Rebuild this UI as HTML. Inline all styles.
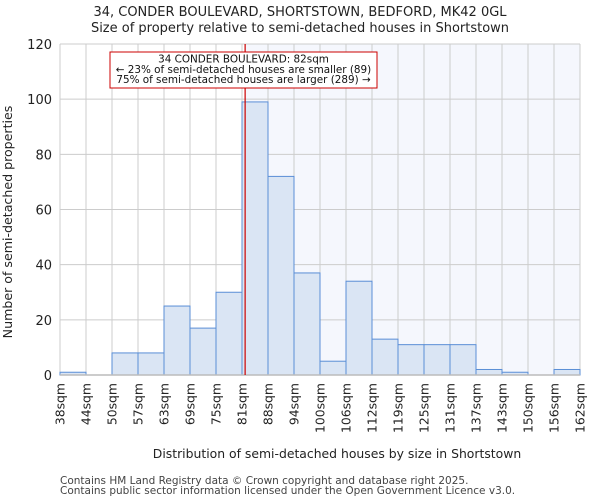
<!DOCTYPE html>
<html><head><meta charset="utf-8"><style>
body{margin:0;background:#fff;font-family:"DejaVu Sans","Liberation Sans",sans-serif}
</style></head><body>
<svg width="600" height="500" xmlns="http://www.w3.org/2000/svg" font-family="DejaVu Sans, Liberation Sans, sans-serif">
<text x="300" y="16" font-size="13" text-anchor="middle" fill="#222">34, CONDER BOULEVARD, SHORTSTOWN, BEDFORD, MK42 0GL</text>
<text x="300" y="32" font-size="13" text-anchor="middle" fill="#222">Size of property relative to semi-detached houses in Shortstown</text>
<g id="plot"></g>
<text x="337" y="458" font-size="12.4" text-anchor="middle" fill="#222">Distribution of semi-detached houses by size in Shortstown</text>
<text transform="translate(12,222) rotate(-90)" font-size="12.6" text-anchor="middle" fill="#222">Number of semi-detached properties</text>
<text x="60" y="484" font-size="10.5" fill="#444">Contains HM Land Registry data © Crown copyright and database right 2025.</text>
<text x="60" y="494" font-size="10.5" fill="#444">Contains public sector information licensed under the Open Government Licence v3.0.</text>
</svg>
<script>
const categories=["38sqm","44sqm","50sqm","57sqm","63sqm","69sqm","75sqm","81sqm","88sqm","94sqm","100sqm","106sqm","112sqm","119sqm","125sqm","131sqm","137sqm","143sqm","150sqm","156sqm","162sqm"];
const counts=[1,0,8,8,25,17,30,99,72,37,5,34,13,11,11,11,2,1,0,2];
const yTicks=[0,20,40,60,80,100,120];
const markerBin=7.12;
const NS="http://www.w3.org/2000/svg";
const L=60,R=580,T=44,B=375;
const nb=counts.length;
const xs=i=>L+(R-L)*i/nb;
const ys=v=>B-(B-T)*v/120;
const g=document.getElementById('plot');
function mk(t,a){const e=document.createElementNS(NS,t);for(const k in a)e.setAttribute(k,a[k]);g.appendChild(e);return e;}
const mx=xs(markerBin);
let e=mk('rect',{x:mx,y:T,width:R-mx,height:B-T,fill:'#f5f7fd'});


for(let i=0;i<=nb;i++){e=mk('line',{x1:xs(i),x2:xs(i),y1:T,y2:B,stroke:'#cccccc'});

}
yTicks.forEach(v=>{e=mk('line',{x1:L,x2:R,y1:ys(v),y2:ys(v),stroke:'#cccccc'});


e=mk('text',{x:L-8,y:ys(v)+5,'font-size':13,'text-anchor':'end',fill:'#222'});e.textContent=v;

});
counts.forEach((c,i)=>{if(c<=0)return;e=mk('rect',{x:xs(i),y:ys(c),width:xs(1)-xs(0),height:B-ys(c),fill:'#dae5f4',stroke:'#5a8ed6','stroke-width':1});

});
e=mk('line',{x1:L,x2:R,y1:B,y2:B,stroke:'#bbbbbb','stroke-width':1.5});


categories.forEach((c,i)=>{const x=xs(i);e=mk('text',{transform:`translate(${x+4.5},383) rotate(-90)`,'font-size':12.4,'text-anchor':'end',fill:'#222'});e.textContent=c;

});
e=mk('line',{x1:mx,x2:mx,y1:T,y2:B,stroke:'#cc0000','stroke-width':1.2});


e=mk('rect',{x:110,y:52,width:267,height:36,fill:'#fff',stroke:'#cc0000','stroke-width':1});


["34 CONDER BOULEVARD: 82sqm","← 23% of semi-detached houses are smaller (89)","75% of semi-detached houses are larger (289) →"].forEach((t,i)=>{
e=mk('text',{x:243.5,y:62.5+i*10.3,'font-size':10.4,'text-anchor':'middle',fill:'#111'});e.textContent=t;

});
</script>
</body></html>
